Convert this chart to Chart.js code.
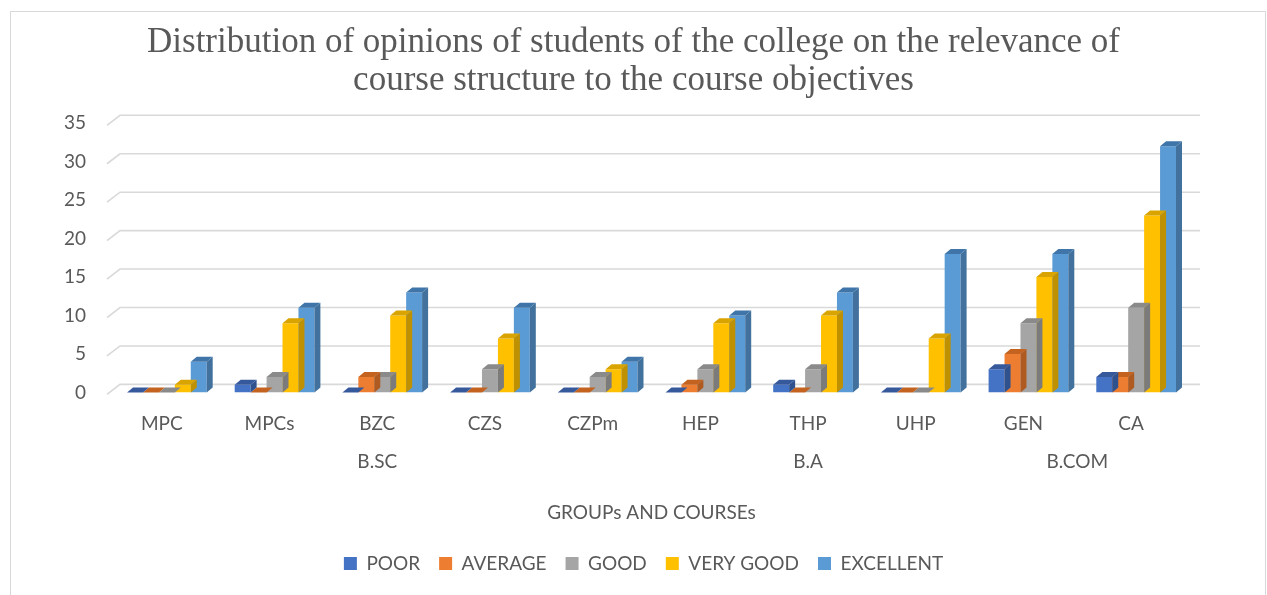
<!DOCTYPE html>
<html>
<head>
<meta charset="utf-8">
<script src="https://cdn.jsdelivr.net/npm/chart.js@4.4.0/dist/chart.umd.min.js"></script>
<style>
  html, body { margin: 0; padding: 0; background: #fff; }
  #wrap { width: 1267px; height: 595px; position: relative; }
</style>
</head>
<body>
<div id="wrap"><canvas id="chart1"></canvas></div>
<script>
// Chart data
const categories = ['MPC', 'MPCs', 'BZC', 'CZS', 'CZPm', 'HEP', 'THP', 'UHP', 'GEN', 'CA'];
const poor      = [0, 1, 0, 0, 0, 0, 1, 0, 3, 2];
const average   = [0, 0, 2, 0, 0, 1, 0, 0, 5, 2];
const good      = [0, 2, 2, 3, 2, 3, 3, 0, 9, 11];
const veryGood  = [1, 9, 10, 7, 3, 9, 10, 7, 15, 23];
const excellent = [4, 11, 13, 11, 4, 10, 13, 18, 18, 32];
const seriesNames = ['POOR', 'AVERAGE', 'GOOD', 'VERY GOOD', 'EXCELLENT'];
const groupLabels = ['B.SC', 'B.A', 'B.COM'];
const groupFirst = [0, 5, 8];
const groupLast = [4, 7, 9];
const yMin = 0;
const yMax = 35;
const yStep = 5;

// Colours: front face, side face, top face
const fronts = ['#4472C4', '#ED7D31', '#A5A5A5', '#FFC000', '#5B9BD5'];
const sides  = ['#2F528F', '#AE5A21', '#7B7B7B', '#BF9000', '#41719C'];
const tops   = ['#36599C', '#C4621F', '#8A8A8A', '#D9A300', '#3F75A8'];

const textColor = '#595959';
const gridColor = '#D9D9D9';
const labelShift = -5;   // category labels sit a bit left of the bar clusters
const depthX = 6, depthY = -5;     // bar depth
const wallX = 13, wallY = -10;     // back wall depth

// Background and outer frame
const framePlugin = {
  id: 'frame',
  beforeDraw(chart) {
    const ctx = chart.ctx;
    ctx.save();
    ctx.fillStyle = '#fff';
    ctx.fillRect(0, 0, chart.width, chart.height);
    ctx.strokeStyle = gridColor;
    ctx.lineWidth = 1;
    ctx.strokeRect(10.5, 11.5, chart.width - 12, chart.height + 20);
    ctx.restore();
  },
  // nudge the legend a little to the left, as in the picture
  afterLayout(chart) {
    if (chart.legend) {
      chart.legend.left -= 8;
      chart.legend.right -= 8;
    }
  }
};

// Back wall gridlines with the little diagonal on the left
const wallPlugin = {
  id: 'wall',
  beforeDatasetsDraw(chart) {
    const ctx = chart.ctx;
    const y = chart.scales.y;
    const left = chart.chartArea.left - 6;
    const right = chart.chartArea.right + 10;
    ctx.save();
    ctx.strokeStyle = gridColor;
    ctx.lineWidth = 1.6;
    for (let v = yMin; v <= yMax; v += yStep) {
      const py = y.getPixelForValue(v) + 2;
      ctx.beginPath();
      ctx.moveTo(left, py);
      ctx.lineTo(left + wallX, py + wallY);
      ctx.lineTo(right, py + wallY);
      ctx.stroke();
    }
    ctx.restore();
  }
};

// Side and top faces, drawn right after each series so the next one covers them
const bars3dPlugin = {
  id: 'bars3d',
  afterDatasetDraw(chart, args) {
    const ctx = chart.ctx;
    const i = args.index;
    ctx.save();
    args.meta.data.forEach(el => {
      const p = el.getProps(['x', 'y', 'base', 'width'], true);
      const l = p.x - p.width / 2;
      const r = p.x + p.width / 2;
      // side
      ctx.fillStyle = sides[i];
      ctx.beginPath();
      ctx.moveTo(r, p.y);
      ctx.lineTo(r + depthX, p.y + depthY);
      ctx.lineTo(r + depthX, p.base + depthY);
      ctx.lineTo(r, p.base);
      ctx.closePath();
      ctx.fill();
      // top
      ctx.fillStyle = tops[i];
      ctx.beginPath();
      ctx.moveTo(l, p.y);
      ctx.lineTo(r, p.y);
      ctx.lineTo(r + depthX, p.y + depthY);
      ctx.lineTo(l + depthX, p.y + depthY);
      ctx.closePath();
      ctx.fill();
    });
    ctx.restore();
  }
};

// Group labels under the category labels
const groupPlugin = {
  id: 'groups',
  afterDraw(chart) {
    const ctx = chart.ctx;
    const x = chart.scales.x;
    ctx.save();
    ctx.font = '19px Lato';
    ctx.fillStyle = textColor;
    ctx.textAlign = 'center';
    ctx.textBaseline = 'middle';
    groupLabels.forEach((g, k) => {
      const px = (x.getPixelForValue(groupFirst[k]) + x.getPixelForValue(groupLast[k])) / 2 + labelShift;
      ctx.fillText(g, px, 462);
    });
    ctx.restore();
  }
};

function createBarChart(chartId) {
  const seriesValues = [poor, average, good, veryGood, excellent];
  const ctx = document.getElementById(chartId).getContext('2d');
  return new Chart(ctx, {
    type: 'bar',
    data: {
      labels: categories,
      datasets: seriesValues.map((vals, i) => ({
        label: seriesNames[i],
        data: vals,
        backgroundColor: fronts[i],
        borderWidth: 0,
        categoryPercentage: 0.74,
        barPercentage: 1.0,
      })),
    },
    options: {
      responsive: true,
      maintainAspectRatio: false,
      animation: false,
      layout: { padding: { top: 0, left: 0, right: 0, bottom: 12 } },
      scales: {
        x: {
          grid: { display: false },
          border: { display: false },
          ticks: {
            color: textColor,
            font: { family: 'Lato', size: 19 },
            padding: 12,
            labelOffset: labelShift,
            maxRotation: 0,
            autoSkip: false,
          },
          title: {
            display: true,
            text: 'GROUPs AND COURSEs',
            color: textColor,
            font: { family: 'Lato', size: 19 },
            padding: { top: 54, bottom: 11 },
          },
        },
        y: {
          min: yMin,
          max: yMax,
          grid: { display: false },
          border: { display: false },
          ticks: {
            stepSize: yStep,
            color: textColor,
            font: { family: 'Lato', size: 19 },
            padding: 19,
          },
          afterFit: s => { s.width = 113; },
        },
        yRight: {
          position: 'right',
          grid: { display: false },
          border: { display: false },
          ticks: { display: false },
          afterFit: s => { s.width = 77; },
        },
      },
      plugins: {
        title: {
          display: true,
          text: ['Distribution of opinions of students of the college on the relevance of',
                 'course structure to the course objectives'],
          color: textColor,
          font: { family: 'Liberation Serif', size: 35, weight: 'normal', lineHeight: 1.09 },
          padding: { top: 24, bottom: 23 },
        },
        legend: {
          position: 'bottom',
          fullSize: false,
          labels: {
            boxWidth: 13,
            boxHeight: 13,
            color: textColor,
            font: { family: 'Lato', size: 19 },
            padding: 19,
          },
        },
        tooltip: { enabled: false },
      },
    },
    plugins: [framePlugin, wallPlugin, bars3dPlugin, groupPlugin],
  });
}

createBarChart('chart1');
</script>
</body>
</html>
